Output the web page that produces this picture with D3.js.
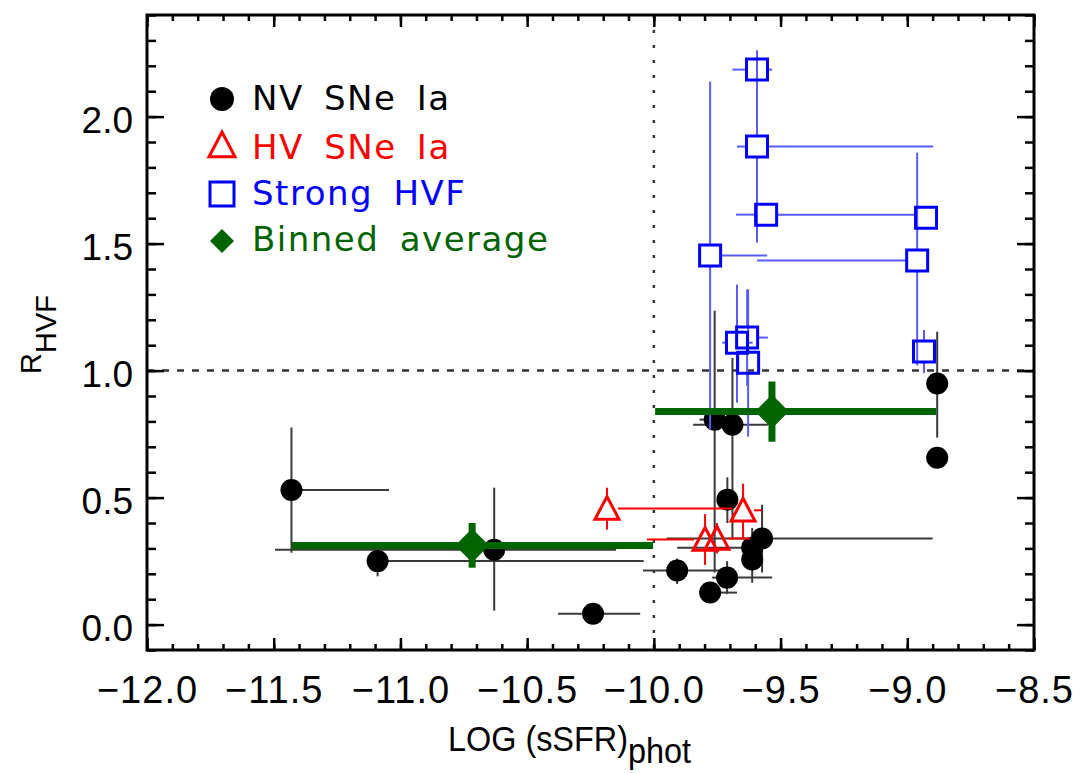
<!DOCTYPE html>
<html>
<head>
<meta charset="utf-8">
<script src="https://cdn.jsdelivr.net/npm/d3@7"></script>
<style>
  body { margin: 0; background: #fff; }
  svg { display: block; }
</style>
</head>
<body>
<div id="chart"></div>
<script>
// NV SNe Ia (black dots): value, then the ends of each error bar
const nvX   = [-11.43, -11.09, -10.63, -10.24, -9.76, -9.69, -9.71, -9.573, -9.612, -9.612, -9.711, -9.908, -9.778, -8.882, -8.882];
const nvY   = [0.53, 0.25, 0.295, 0.043, 0.807, 0.787, 0.492, 0.339, 0.303, 0.256, 0.185, 0.213, 0.126, 0.949, 0.657];
const nvXlo = [-11.43, -11.09, -11.495, -10.378, -9.82, -9.845, -9.75, -9.95, -9.908, -9.65, -9.77, -10.043, -9.778, -8.882, -8.882];
const nvXhi = [-11.045, -10.04, -10.149, -10.054, -9.68, -9.55, -9.67, -8.9, -9.58, -9.57, -9.533, -9.70, -9.672, -8.882, -8.882];
const nvYlo = [0.283, 0.19, 0.055, 0.043, 0.205, 0.335, 0.40, 0.205, 0.22, 0.165, 0.12, 0.16, 0.09, 0.736, 0.657];
const nvYhi = [0.776, 0.31, 0.539, 0.043, 1.236, 1.05, 0.58, 0.472, 0.38, 0.30, 0.25, 0.26, 0.16, 1.153, 0.657];

// HV SNe Ia (red triangles)
const hvX   = [-10.185, -9.798, -9.751, -9.648];
const hvY   = [0.457, 0.335, 0.339, 0.45];
const hvXlo = [-10.185, -10.027, -9.751, -9.648];
const hvXhi = [-9.69, -9.798, -9.62, -9.573];
const hvYlo = [0.374, 0.235, 0.28, 0.335];
const hvYhi = [0.539, 0.435, 0.40, 0.555];

// Strong HVF (blue squares)
const hvfX   = [-9.593, -9.593, -9.557, -8.926, -8.961, -8.934, -9.778, -9.672, -9.632, -9.628];
const hvfY   = [2.185, 1.882, 1.614, 1.602, 1.433, 1.075, 1.453, 1.110, 1.130, 1.031];
const hvfXlo = [-9.69, -9.672, -9.676, -8.926, -9.593, -8.934, -9.778, -9.73, -9.67, -9.66];
const hvfXhi = [-9.533, -8.898, -8.97, -8.926, -8.961, -8.934, -9.553, -9.61, -9.55, -9.60];
const hvfYlo = [1.95, 1.504, 1.614, 1.602, 1.02, 0.99, 0.768, 0.874, 0.94, 0.74];
const hvfYhi = [2.26, 2.26, 1.614, 1.602, 1.858, 1.16, 2.138, 1.339, 1.319, 1.32];

// Binned average (green diamonds)
const binX   = [-10.717, -9.534];
const binY   = [0.311, 0.839];
const binXlo = [-11.428, -9.995];
const binXhi = [-10.003, -8.886];
const binYlo = [0.224, 0.72];
const binYhi = [0.40, 0.957];

const xTicks = [-12.0, -11.5, -11.0, -10.5, -10.0, -9.5, -9.0, -8.5];
const yTicks = [0.0, 0.5, 1.0, 1.5, 2.0];
const legendLabels = ['NV SNe Ia', 'HV SNe Ia', 'Strong HVF', 'Binned average'];

const w = 1081;
const h = 774;
const plotL = 147, plotR = 1034, plotT = 15, plotB = 650;

const xScale = d3.scaleLinear().domain([-12, -8.5]).range([plotL, plotR]);
const yScale = d3.scaleLinear().domain([-0.1, 2.4]).range([plotB, plotT]);

const xMinor = d3.range(0, 36).map(i => -12 + i * 0.1);
const yMinor = d3.range(0, 26).map(i => -0.1 + i * 0.1);

const svg = d3.select('#chart')
  .append('svg')
  .attr('width', w)
  .attr('height', h);

// reference lines
svg.append('line')
  .attr('x1', xScale(-10)).attr('x2', xScale(-10))
  .attr('y1', plotT).attr('y2', plotB)
  .attr('stroke', '#333').attr('stroke-width', 2.5)
  .attr('stroke-dasharray', '3,12');
svg.append('line')
  .attr('x1', plotL).attr('x2', plotR)
  .attr('y1', yScale(1)).attr('y2', yScale(1))
  .attr('stroke', '#333').attr('stroke-width', 2.5)
  .attr('stroke-dasharray', '7,8');

// error bars, starting at the marker edge when gap > 0
const errorBars = (xs, ys, xlo, xhi, ylo, yhi, gap, color, width) => {
  const segs = [];
  xs.forEach((v, i) => {
    const px = xScale(v), py = yScale(ys[i]);
    const l = xScale(xlo[i]), r = xScale(xhi[i]);
    const b = yScale(ylo[i]), t = yScale(yhi[i]);
    if (px - gap - l > 0.5) segs.push([l, py, px - gap, py]);
    if (r - px - gap > 0.5) segs.push([px + gap, py, r, py]);
    if (b - py - gap > 0.5) segs.push([px, py + gap, px, b]);
    if (py - gap - t > 0.5) segs.push([px, py - gap, px, t]);
  });
  svg.append('g')
    .selectAll('line')
    .data(segs)
    .enter()
    .append('line')
    .attr('x1', d => d[0]).attr('y1', d => d[1])
    .attr('x2', d => d[2]).attr('y2', d => d[3])
    .attr('stroke', color)
    .attr('stroke-width', width);
};

const triPath = s => `M0,${-s}L${s},${s * 0.9}L${-s},${s * 0.9}Z`;
const sqPath = s => `M${-s},${-s}H${s}V${s}H${-s}Z`;
const diaPath = s => `M0,${-s}L${s},0L0,${s}L${-s},0Z`;

// NV SNe Ia
errorBars(nvX, nvY, nvXlo, nvXhi, nvYlo, nvYhi, 0, '#3a3a3a', 2);
svg.append('g')
  .selectAll('circle')
  .data(nvX)
  .enter()
  .append('circle')
  .attr('cx', d => xScale(d))
  .attr('cy', (d, i) => yScale(nvY[i]))
  .attr('r', 11)
  .attr('fill', '#000');

// HV SNe Ia
errorBars(hvX, hvY, hvXlo, hvXhi, hvYlo, hvYhi, 11, '#ff0000', 2);
svg.append('g')
  .selectAll('path')
  .data(hvX)
  .enter()
  .append('path')
  .attr('d', triPath(12))
  .attr('transform', (d, i) => `translate(${xScale(d)},${yScale(hvY[i])})`)
  .attr('fill', 'none')
  .attr('stroke', '#ff0000')
  .attr('stroke-width', 3);

// Strong HVF
errorBars(hvfX, hvfY, hvfXlo, hvfXhi, hvfYlo, hvfYhi, 11, '#5a5aff', 2);
svg.append('g')
  .selectAll('path')
  .data(hvfX)
  .enter()
  .append('path')
  .attr('d', sqPath(10.5))
  .attr('transform', (d, i) => `translate(${xScale(d)},${yScale(hvfY[i])})`)
  .attr('fill', 'none')
  .attr('stroke', '#0000ff')
  .attr('stroke-width', 3);

// Binned average
errorBars(binX, binY, binXlo, binXhi, binYlo, binYhi, 0, '#006400', 7);
svg.append('g')
  .selectAll('path')
  .data(binX)
  .enter()
  .append('path')
  .attr('d', diaPath(17))
  .attr('transform', (d, i) => `translate(${xScale(d)},${yScale(binY[i])})`)
  .attr('fill', '#006400');

// axes: ticks inward on all four sides
const tickAxis = (axis, scale, values, size, transform, fmt) => {
  const g = svg.append('g')
    .attr('transform', transform)
    .call(axis(scale).tickValues(values).tickSize(size).tickFormat(fmt || (() => '')));
  g.select('.domain').remove();
  g.selectAll('line').attr('stroke', '#000').attr('stroke-width', 2.5);
  return g;
};

const xLab = tickAxis(d3.axisBottom, xScale, xTicks, -12, `translate(0,${plotB})`, d3.format('.1f'));
tickAxis(d3.axisBottom, xScale, xMinor, -6, `translate(0,${plotB})`);
tickAxis(d3.axisTop, xScale, xTicks, -12, `translate(0,${plotT})`);
tickAxis(d3.axisTop, xScale, xMinor, -6, `translate(0,${plotT})`);
const yLab = tickAxis(d3.axisLeft, yScale, yTicks, -17, `translate(${plotL},0)`, d3.format('.1f'));
tickAxis(d3.axisLeft, yScale, yMinor, -9, `translate(${plotL},0)`);
tickAxis(d3.axisRight, yScale, yTicks, -17, `translate(${plotR},0)`);
tickAxis(d3.axisRight, yScale, yMinor, -9, `translate(${plotR},0)`);

xLab.selectAll('text')
  .attr('y', 53).attr('dy', 0)
  .attr('fill', '#000')
  .style('font-family', '"Liberation Sans", Arial, sans-serif')
  .style('font-size', '38px')
  .style('letter-spacing', '1px');
yLab.selectAll('text')
  .attr('x', -14).attr('dy', '0.43em')
  .attr('fill', '#000')
  .style('font-family', '"Liberation Sans", Arial, sans-serif')
  .style('font-size', '37px');

svg.append('rect')
  .attr('x', plotL).attr('y', plotT)
  .attr('width', plotR - plotL).attr('height', plotB - plotT)
  .attr('fill', 'none')
  .attr('stroke', '#000')
  .attr('stroke-width', 3);

// axis titles
const xt = svg.append('text')
  .attr('transform', 'translate(448,751) scale(0.9,1)')
  .style('font-family', '"Liberation Sans", Arial, sans-serif')
  .style('font-size', '36px')
  .text('LOG (sSFR)');
xt.append('tspan').attr('dy', 12).text('phot');

const yt = svg.append('text')
  .attr('transform', 'translate(41,374) rotate(-90)')
  .style('font-family', '"Liberation Sans", Arial, sans-serif')
  .style('font-size', '29px')
  .text('R');
yt.append('tspan').attr('dy', 15).text('HVF');

// legend
const legColors = ['#000', '#ff0000', '#0000ff', '#006400'];
const legY = [99, 145, 194, 241];
const legBase = [110, 159, 205, 251];
const mx = 222;
svg.append('circle').attr('cx', mx).attr('cy', legY[0]).attr('r', 12).attr('fill', '#000');
svg.append('path').attr('d', triPath(13)).attr('transform', `translate(${mx},${legY[1]})`)
  .attr('fill', 'none').attr('stroke', '#ff0000').attr('stroke-width', 3);
svg.append('path').attr('d', sqPath(12)).attr('transform', `translate(${mx},${legY[2]})`)
  .attr('fill', 'none').attr('stroke', '#0000ff').attr('stroke-width', 3);
svg.append('path').attr('d', diaPath(12)).attr('transform', `translate(${mx},${legY[3]})`)
  .attr('fill', '#006400');

svg.append('g')
  .selectAll('text')
  .data(legendLabels)
  .enter()
  .append('text')
  .attr('x', 252)
  .attr('y', (d, i) => legBase[i])
  .attr('fill', (d, i) => legColors[i])
  .style('font-family', '"DejaVu Sans", sans-serif')
  .style('font-size', '34px')
  .style('letter-spacing', '1.5px')
  .style('word-spacing', '8px')
  .text(d => d);
</script>
</body>
</html>
